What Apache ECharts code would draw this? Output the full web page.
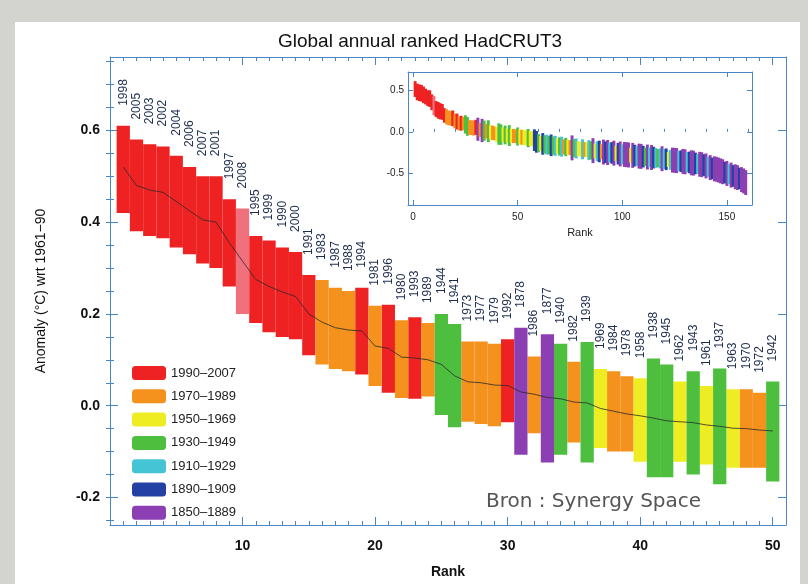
<!DOCTYPE html>
<html><head><meta charset="utf-8">
<script src="https://cdn.jsdelivr.net/npm/echarts@6.0.0/dist/echarts.min.js"></script>
<style>html,body{margin:0;padding:0;background:#d3d4d0;}#c{width:808px;height:584px;}</style>
</head><body><div id="c"></div>
<script>
// ---- data: top 50 ranked years ----
const years = ['1998','2005','2003','2002','2004','2006','2007','2001','1997','2008',
 '1995','1999','1990','2000','1991','1983','1987','1988','1994','1981',
 '1996','1980','1993','1989','1944','1941','1973','1977','1979','1992',
 '1878','1986','1877','1940','1982','1939','1969','1984','1978','1958',
 '1938','1945','1962','1943','1961','1937','1963','1970','1972','1942'];
const highs = [0.61,0.58,0.57,0.565,0.545,0.52,0.50,0.50,0.45,0.43,
 0.37,0.36,0.345,0.335,0.285,0.274,0.257,0.25,0.257,0.218,
 0.22,0.186,0.193,0.18,0.20,0.178,0.14,0.14,0.135,0.145,
 0.17,0.107,0.156,0.135,0.096,0.139,0.08,0.075,0.064,0.06,
 0.103,0.09,0.053,0.075,0.043,0.081,0.036,0.036,0.028,0.053];
const lows = [0.42,0.38,0.37,0.365,0.345,0.33,0.31,0.30,0.26,0.20,
 0.18,0.16,0.15,0.145,0.11,0.09,0.08,0.075,0.068,0.043,
 0.028,0.017,0.015,0.02,-0.02,-0.047,-0.035,-0.04,-0.045,-0.036,
 -0.107,-0.06,-0.124,-0.107,-0.08,-0.124,-0.092,-0.10,-0.10,-0.122,
 -0.156,-0.156,-0.122,-0.15,-0.128,-0.171,-0.135,-0.135,-0.135,-0.165];
const centers = [0.52,0.48,0.47,0.465,0.445,0.425,0.405,0.40,0.355,0.315,
 0.275,0.26,0.248,0.238,0.2,0.182,0.17,0.165,0.163,0.13,
 0.125,0.106,0.104,0.1,0.09,0.065,0.052,0.05,0.045,0.044,
 0.03,0.025,0.018,0.015,0.008,0.006,-0.006,-0.012,-0.018,-0.022,
 -0.027,-0.033,-0.035,-0.037,-0.042,-0.045,-0.049,-0.05,-0.053,-0.055];

const periodNames = ['1990–2007','1970–1989','1950–1969','1930–1949','1910–1929','1890–1909','1850–1889'];
const periodStarts = [1990,1970,1950,1930,1910,1890,1850];
const periodColors = ['#ee2222','#f5921e','#eeec22','#4dbe3e','#44c4d4','#2340a4','#8c3fb2'];
const colour2008 = '#f0707c';

// ---- inset: ranks 51..159 ----
const insetCenters = [-0.06,-0.065,-0.07,-0.072,-0.075,-0.08,-0.085,-0.10,-0.12,-0.135,
 -0.14,-0.145,-0.15,-0.155,-0.16,-0.162,-0.165,-0.168,-0.17,-0.175,
 -0.178,-0.18,-0.183,-0.186,-0.19,-0.193,-0.196,-0.2,-0.203,-0.206,
 -0.21,-0.213,-0.216,-0.22,-0.223,-0.226,-0.23,-0.233,-0.236,-0.24,
 -0.243,-0.245,-0.248,-0.25,-0.253,-0.256,-0.26,-0.263,-0.266,-0.27,
 -0.272,-0.275,-0.278,-0.28,-0.283,-0.286,-0.29,-0.292,-0.295,-0.298,
 -0.30,-0.303,-0.306,-0.308,-0.31,-0.313,-0.316,-0.32,-0.323,-0.326,
 -0.33,-0.333,-0.336,-0.34,-0.343,-0.346,-0.35,-0.353,-0.356,-0.36,
 -0.364,-0.368,-0.372,-0.376,-0.38,-0.385,-0.39,-0.395,-0.40,-0.41,
 -0.42,-0.43,-0.44,-0.445,-0.45,-0.46,-0.47,-0.48,-0.49,-0.50,
 -0.51,-0.52,-0.53,-0.54,-0.55,-0.56,-0.575,-0.59,-0.61];
const insetPeriods = [2,1,2,2,3,2,2,5,5,3,
 2,5,3,4,3,5,3,4,2,3,
 4,1,3,2,1,6,3,4,2,2,
 4,1,2,4,3,6,2,4,5,1,
 6,5,6,4,5,6,2,5,6,4,
 6,6,6,2,6,5,4,6,6,5,
 3,6,4,6,5,4,3,4,6,4,
 5,2,4,6,6,6,4,5,6,6,
 4,5,6,6,5,4,6,6,5,6,
 4,6,5,6,6,6,6,6,5,6,
 4,6,5,6,6,5,6,6,6];
const periodHalf = [0.1,0.09,0.09,0.11,0.12,0.13,0.15];

// ---- tick values ----
const yTicks = [-0.2,0.0,0.2,0.4,0.6];
const yMinorTicks = [-0.25,-0.2,-0.15,-0.1,-0.05,0,0.05,0.1,0.15,0.2,0.25,0.3,0.35,0.4,0.45,0.5,0.55,0.6,0.65,0.7,0.75];
const insetXTicks = [0,50,100,150];
const insetXMinor = [0,10,20,30,40,50,60,70,80,90,100,110,120,130,140,150,160];
const insetYTicks = [-0.5,0.0,0.5];

function periodOf(y){ y=+y; if(y>=2008) return 7; for(let i=0;i<periodStarts.length;i++){ if(y>=periodStarts[i]) return i; } return 6; }
function colorOf(p){ return p===7 ? colour2008 : periodColors[p]; }

const FONT = '"Liberation Sans", Arial, sans-serif';
const AX = '#4a86c5';

function mainRender(params, api){
  const r = api.value(0), lo = api.value(1), hi = api.value(2);
  const a = api.coord([r-0.5, hi]), b = api.coord([r+0.5, lo]);
  const t = api.coord([r, hi]);
  return {type:'group', children:[
    {type:'rect', shape:{x:a[0], y:a[1], width:b[0]-a[0], height:b[1]-a[1]}, style:{fill:api.visual('color')}},
    {type:'text', x:t[0], y:t[1]-20, rotation:Math.PI/2,
     style:{text:years[r-1], x:0, y:0, align:'left', verticalAlign:'middle', fill:'#1f2d4d', font:'12px '+FONT}}
  ]};
}
function insetRender(params, api){
  const r = api.value(0), lo = api.value(1), hi = api.value(2), p = api.value(3);
  const a = api.coord([r-0.7, hi]), b = api.coord([r+0.7, lo]);
  return {type:'rect', shape:{x:a[0], y:a[1], width:b[0]-a[0], height:b[1]-a[1]}, style:{fill:colorOf(p)}};
}

const series = [];
for (let p=0;p<8;p++){
  const data = [];
  years.forEach((y,i)=>{ if(periodOf(y)===p) data.push([i+1, lows[i], highs[i]]); });
  series.push({type:'custom', name: p<7 ? periodNames[p] : '2008', xAxisIndex:0, yAxisIndex:0,
    itemStyle:{color:colorOf(p)}, renderItem:mainRender, data, encode:{x:0,y:[1,2]}, z:2});
}
series.push({type:'line', xAxisIndex:0, yAxisIndex:0, data:centers.map((v,i)=>[i+1,v]),
  symbol:'none', lineStyle:{color:'#2a2a2a', width:1, opacity:0.8}, z:5, silent:true});

const insetData = [];
years.forEach((y,i)=>insetData.push([i+1, lows[i], highs[i], periodOf(y)]));
insetCenters.forEach((c,i)=>{ const p=insetPeriods[i]; insetData.push([51+i, c-periodHalf[p], c+periodHalf[p], p]); });
series.push({type:'custom', xAxisIndex:2, yAxisIndex:4, renderItem:insetRender, data:insetData, clip:true, z:3, encode:{x:0,y:[1,2]}});

const tickLine = {lineStyle:{color:AX, width:1}};
const YMIN = -0.26, YMAX = 0.76;
const option = {
  backgroundColor:'#d3d4d0',
  animation:false,
  textStyle:{fontFamily:FONT},
  graphic:[
    {type:'rect', z:-10, shape:{x:15,y:22,width:785,height:562}, style:{fill:'#ffffff'}},
    {type:'text', z:10, x:420, y:42, style:{text:'Global annual ranked HadCRUT3', align:'center', verticalAlign:'middle', font:'19px '+FONT, fill:'#111'}},
    {type:'text', z:10, x:486, y:502, style:{text:'Bron : Synergy Space', align:'left', verticalAlign:'middle', font:'20px "DejaVu Sans", sans-serif', fill:'#555'}}
  ],
  legend:{data:periodNames, orient:'vertical', left:132, top:366, itemWidth:34, itemHeight:14, itemGap:9.3,
    icon:'roundRect', padding:0, selectedMode:false, textStyle:{fontSize:13, color:'#222', fontFamily:FONT}},
  grid:[
    {left:110, right:22, top:57, bottom:53, show:false},
    {left:408, right:56, top:72, bottom:379, show:false}
  ],
  xAxis:[
    {gridIndex:0, type:'value', position:'bottom', min:0, max:51, interval:10,
     axisLine:{show:true, onZero:false, ...tickLine}, axisTick:{inside:true, length:8, ...tickLine},
     minorTick:{show:true, splitNumber:10, length:4, ...tickLine}, splitLine:{show:false},
     axisLabel:{margin:14, fontSize:14, fontWeight:'bold', color:'#111', formatter:v=>(v>0 && v%10===0)?String(v):''},
     name:'Rank', nameLocation:'middle', nameGap:40, nameTextStyle:{fontSize:14, fontWeight:'bold', color:'#111'}},
    {gridIndex:0, type:'value', position:'top', min:0, max:51, interval:10,
     axisLine:{show:true, onZero:false, ...tickLine}, axisTick:{inside:true, length:8, ...tickLine},
     minorTick:{show:true, splitNumber:10, length:4, ...tickLine}, splitLine:{show:false}, axisLabel:{show:false}},
    {gridIndex:1, type:'value', position:'bottom', min:-2.4, max:162,
     axisLine:{show:true, onZero:false, ...tickLine}, axisTick:{inside:true, length:5, customValues:insetXTicks, ...tickLine},
     splitLine:{show:false}, axisLabel:{customValues:insetXTicks, margin:7, fontSize:10, color:'#222'},
     name:'Rank', nameLocation:'middle', nameGap:22, nameTextStyle:{fontSize:11, color:'#222'}},
    {gridIndex:1, type:'value', position:'top', min:-2.4, max:162,
     axisLine:{show:true, onZero:false, ...tickLine}, axisTick:{inside:true, length:5, customValues:insetXTicks, ...tickLine},
     splitLine:{show:false}, axisLabel:{show:false}},
    {gridIndex:1, type:'value', position:'bottom', min:-2.4, max:162,
     axisLine:{show:false}, axisTick:{inside:true, length:3, customValues:insetXMinor, ...tickLine},
     splitLine:{show:false}, axisLabel:{show:false}}
  ],
  yAxis:[
    {gridIndex:0, type:'value', position:'left', min:YMIN, max:YMAX,
     axisLine:{show:true, onZero:false, ...tickLine}, axisTick:{inside:true, length:8, customValues:yTicks, ...tickLine},
     splitLine:{show:false}, axisLabel:{customValues:yTicks, margin:10, fontSize:14, fontWeight:'bold', color:'#111', formatter:v=>v.toFixed(1)},
     name:'Anomaly (°C) wrt 1961−90', nameLocation:'middle', nameGap:62, nameRotate:90, nameTextStyle:{fontSize:14, color:'#111'}},
    {gridIndex:0, type:'value', position:'left', min:YMIN, max:YMAX,
     axisLine:{show:false}, axisTick:{inside:true, length:4, customValues:yMinorTicks, ...tickLine}, splitLine:{show:false}, axisLabel:{show:false}},
    {gridIndex:0, type:'value', position:'right', min:YMIN, max:YMAX,
     axisLine:{show:true, onZero:false, ...tickLine}, axisTick:{inside:true, length:8, customValues:yTicks, ...tickLine}, splitLine:{show:false}, axisLabel:{show:false}},
    {gridIndex:0, type:'value', position:'right', min:YMIN, max:YMAX,
     axisLine:{show:false}, axisTick:{inside:true, length:4, customValues:yMinorTicks, ...tickLine}, splitLine:{show:false}, axisLabel:{show:false}},
    {gridIndex:1, type:'value', position:'left', min:-0.88, max:0.72,
     axisLine:{show:true, onZero:false, ...tickLine}, axisTick:{inside:true, length:5, customValues:insetYTicks, ...tickLine},
     splitLine:{show:false}, axisLabel:{customValues:insetYTicks, margin:4, fontSize:10, color:'#222', formatter:v=>v.toFixed(1)}},
    {gridIndex:1, type:'value', position:'right', min:-0.88, max:0.72,
     axisLine:{show:true, onZero:false, ...tickLine}, axisTick:{inside:true, length:5, customValues:insetYTicks, ...tickLine},
     splitLine:{show:false}, axisLabel:{show:false}}
  ],
  series
};
const chart = echarts.init(document.getElementById('c'), null, {renderer:'canvas'});
chart.setOption(option);
</script></body></html>
